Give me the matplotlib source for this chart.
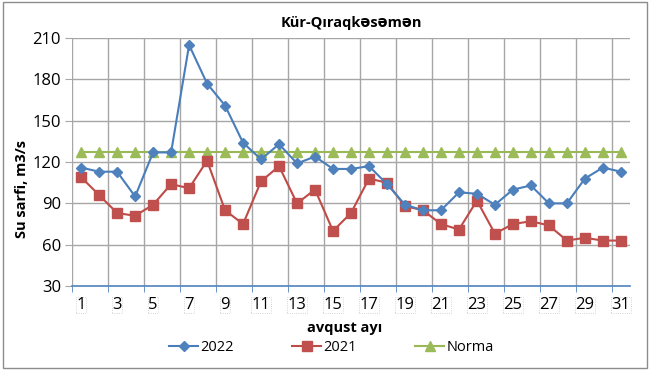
import numpy as np
import matplotlib.pyplot as plt
from matplotlib.patches import Rectangle

# data
days = list(range(1, 32))
flow_2022 = [116, 113, 113, 95, 127, 127, 205, 177, 161, 134, 122, 133, 119, 124, 115, 115, 117, 104,
             89, 85, 85, 98, 97, 89, 100, 103, 90, 90, 108, 116, 113]
flow_2021 = [109, 96, 83, 81, 89, 104, 101, 121, 85, 75, 106, 117, 90, 100, 70, 83, 108, 105,
             88, 85, 75, 71, 92, 68, 75, 77, 74, 63, 65, 63, 63]
norma = [127] * 31
tick_days = list(range(1, 32, 2))
y_ticks = [30, 60, 90, 120, 150, 180, 210]

plt.rcParams['font.family'] = ['Open Sans', 'DejaVu Sans']

fig = plt.figure(figsize=(6.5, 3.7), dpi=100)
ax = fig.add_axes([0.111, 0.227, 0.858, 0.670])

ax.plot(days, flow_2022, color='#4A7EBB', lw=1.5, marker='D', ms=5.5,
        mfc='#4F81BD', mec='#4F81BD', label='2022', zorder=4)
ax.plot(days, flow_2021, color='#BE4B48', lw=1.5, marker='s', ms=7,
        mfc='#C0504D', mec='#C0504D', label='2021', zorder=3)
ax.plot(days, norma, color='#98B954', lw=1.5, marker='^', ms=6.5,
        mfc='#9BBB59', mec='#9BBB59', label='Norma', zorder=2)

ax.set_xlim(0.5, 31.5)
ax.set_ylim(30, 210)
ax.set_yticks(y_ticks)

# vertical grid at category boundaries, every 2 days
bounds = np.arange(0.5, 31, 2)
for b in bounds:
    ax.axvline(b, color='#A6A6A6', lw=1, zorder=0)
for yv in y_ticks[1:]:
    ax.axhline(yv, color='#A6A6A6', lw=1, zorder=0)

ax.set_xticks(bounds, minor=True)
ax.set_xticks(tick_days)
ax.set_xticklabels([str(d) for d in tick_days])
ax.tick_params(axis='x', which='major', length=0, pad=8, labelsize=12)
ax.tick_params(axis='x', which='minor', length=4, color='#4F81BD', direction='out')
ax.tick_params(axis='y', length=5, color='#A6A6A6', labelsize=12, pad=3)
for lbl in ax.get_xticklabels():
    lbl.set_bbox(dict(boxstyle='square,pad=0.02', fc='none', ec='#C8C8C8', ls=':', lw=0.6))

for s in ['top', 'right', 'left']:
    ax.spines[s].set_visible(False)
ax.spines['bottom'].set_color('#4F81BD')
ax.spines['bottom'].set_linewidth(1.2)

ax.set_title('Kür-Qıraqkəsəmən', fontsize=10.5, fontweight='bold', pad=8)
ax.set_ylabel('Su sarfi, m3/s', fontsize=10.5, fontweight='bold')
ax.yaxis.set_label_coords(-0.077, 0.39)
fig.text(0.53, 0.113, 'avqust ayı', ha='center', va='center', fontsize=10.5, fontweight='bold')

fig.legend(loc='center', bbox_to_anchor=(0.51, 0.06), ncol=3, frameon=False,
           fontsize=10.5, handlelength=2.0, columnspacing=4.0, handletextpad=0.15)

fig.patches.append(Rectangle((0.004, 0.006), 0.992, 0.988, transform=fig.transFigure,
                             fill=False, ec='#8C8C8C', lw=1))

fig.savefig('out.png', dpi=100)
